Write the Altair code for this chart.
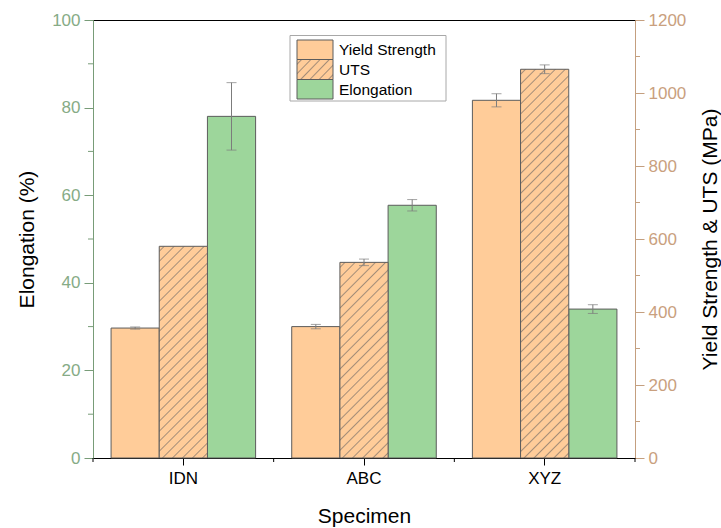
import math
import altair as alt
import pandas as pd

# ---------------- data ----------------
specimens = ["IDN", "ABC", "XYZ"]
series_names = ["Yield Strength", "UTS", "Elongation"]
yield_strength = [356, 360, 980]
yield_err = [3, 6, 18]
uts = [580, 536, 1065]
uts_err = [0, 9, 12]
elongation = [78.0, 57.7, 34.0]
elongation_err = [7.7, 1.3, 1.0]
left_ticks = [0, 20, 40, 60, 80, 100]
left_minor = [10, 30, 50, 70, 90]
right_ticks = [0, 200, 400, 600, 800, 1000, 1200]
right_minor = [100, 300, 500, 700, 900, 1100]

# ---------------- style ----------------
PW, PH = 542, 438
ORANGE = "#FFCC99"
GREEN = "#9DD69B"
EDGE = "#5c5c5c"
HATCH = "#a48d78"
ERR = "#7c7c7c"
LEFT_AX = "#789c78"
LEFT_LBL = "#86ab86"
RIGHT_AX = "#c49f7f"
RIGHT_LBL = "#c9a07e"
FONT = "Liberation Sans"
LEFT_MAX, RIGHT_MAX = 100, 1200


def hatch(w, h, spacing=10.0, bg=ORANGE, line=HATCH, width=1.0):
    n = max(1, round((w + h) / spacing))
    p = 1.0 / n
    period_perp = (w + h) / n / math.sqrt(2)
    f = min(0.45, width / period_perp)
    stops = [{"offset": 0, "color": bg}]
    for k in range(n):
        c = (k + 0.5) * p
        stops += [
            {"offset": round(c - f * p, 5), "color": bg},
            {"offset": round(c, 5), "color": line},
            {"offset": round(c + f * p, 5), "color": bg},
        ]
    stops.append({"offset": 1, "color": bg})
    d = w * w + h * h
    return {"gradient": "linear", "x1": 0, "y1": 0,
            "x2": round(w * (w + h) / d, 5), "y2": round(h * (w + h) / d, 5),
            "stops": stops}


# ---------------- frames ----------------
df_elong = pd.DataFrame({"Specimen": specimens, "Series": "Elongation",
                         "Value": elongation, "Err": elongation_err})
df_mpa = pd.DataFrame({
    "Specimen": specimens * 2,
    "Series": ["Yield Strength"] * 3 + ["UTS"] * 3,
    "Value": yield_strength + uts,
    "Err": yield_err + uts_err,
})
df_lminor = pd.DataFrame({"v": left_minor})
df_rminor = pd.DataFrame({"v": right_minor})

x_axis = alt.Axis(title="Specimen", labelAngle=0, tickSize=7, tickColor="black",
                  domainColor="black", labelColor="black", labelFontSize=17,
                  titleFontSize=21, labelPadding=5, titlePadding=19)
x_scale = alt.Scale(domain=specimens, paddingInner=0, paddingOuter=0)


def X(**kw):
    return alt.X("Specimen:N", sort=specimens, scale=x_scale, axis=x_axis, **kw)


XO = alt.XOffset("Series:N", scale=alt.Scale(domain=series_names, paddingInner=0,
                                              paddingOuter=0.375))

left_axis = alt.Axis(orient="left", title="Elongation (%)", values=left_ticks,
                     format="d", tickSize=9, domainColor=LEFT_AX, tickColor=LEFT_AX,
                     labelColor=LEFT_LBL, labelFontSize=17, titleFontSize=21,
                     titleColor="black", labelPadding=4, titlePadding=14, grid=False)
right_axis = alt.Axis(orient="right", title="Yield Strength & UTS (MPa)",
                      values=right_ticks, format="d", tickSize=9, domainColor=RIGHT_AX,
                      tickColor=RIGHT_AX, labelColor=RIGHT_LBL, labelFontSize=17,
                      titleFontSize=21, titleColor="black", titleAngle=270,
                      titleBaseline="middle", titleAlign="center",
                      titleX=75, titleY=PH / 2,
                      labelPadding=4, grid=False)
lscale = alt.Scale(domain=[0, LEFT_MAX], nice=False)
rscale = alt.Scale(domain=[0, RIGHT_MAX], nice=False)


def LY(field):
    return alt.Y(field, scale=lscale, axis=left_axis)


def RY(field):
    return alt.Y(field, scale=rscale, axis=right_axis)


# ---------------- left (elongation) ----------------
el_base = alt.Chart(df_elong).transform_calculate(
    lo="datum.Value - datum.Err", hi="datum.Value + datum.Err")
el_bars = el_base.mark_bar(fill=GREEN, stroke=EDGE, strokeWidth=1).encode(
    x=X(), xOffset=XO, y=LY("Value:Q"))
el_rule = el_base.mark_rule(color=ERR, strokeWidth=1).encode(
    x=X(), xOffset=XO, y=LY("lo:Q"), y2="hi:Q")
el_cap1 = el_base.mark_tick(color=ERR, size=10, thickness=1).encode(
    x=X(), xOffset=XO, y=LY("lo:Q"))
el_cap2 = el_base.mark_tick(color=ERR, size=10, thickness=1).encode(
    x=X(), xOffset=XO, y=LY("hi:Q"))
el_minor = alt.Chart(df_lminor).mark_rule(color=LEFT_AX).encode(
    x=alt.value(-5), x2=alt.value(0), y=LY("v:Q"))
left = alt.layer(el_bars, el_rule, el_cap1, el_cap2, el_minor)

# ---------------- right (MPa) ----------------
m_base = alt.Chart(df_mpa).transform_calculate(
    lo="datum.Value - datum.Err", hi="datum.Value + datum.Err")
ys_bars = m_base.transform_filter(alt.datum.Series == "Yield Strength").mark_bar(
    fill=ORANGE, stroke=EDGE, strokeWidth=1).encode(x=X(), xOffset=XO, y=RY("Value:Q"))
bar_w = PW / len(specimens) * 0.8 / 3
uts_layers = []
for sp, val in zip(specimens, uts):
    h = val / RIGHT_MAX * PH
    uts_layers.append(
        m_base.transform_filter(
            (alt.datum.Series == "UTS") & (alt.datum.Specimen == sp)
        ).mark_bar(fill=hatch(bar_w, h), stroke=EDGE, strokeWidth=1).encode(
            x=X(), xOffset=XO, y=RY("Value:Q")))
err_base = m_base.transform_filter(alt.datum.Err > 0)
m_rule = err_base.mark_rule(color=ERR, strokeWidth=1).encode(
    x=X(), xOffset=XO, y=RY("lo:Q"), y2="hi:Q")
m_cap1 = err_base.mark_tick(color=ERR, size=10, thickness=1).encode(
    x=X(), xOffset=XO, y=RY("lo:Q"))
m_cap2 = err_base.mark_tick(color=ERR, size=10, thickness=1).encode(
    x=X(), xOffset=XO, y=RY("hi:Q"))
r_minor = alt.Chart(df_rminor).mark_rule(color=RIGHT_AX).encode(
    x=alt.value(PW), x2=alt.value(PW + 5), y=RY("v:Q"))
right = alt.layer(ys_bars, *uts_layers, m_rule, m_cap1, m_cap2, r_minor)

# ---------------- x minor ticks ----------------
df_sp = pd.DataFrame({"Specimen": specimens})
xm1 = alt.Chart(df_sp).mark_rule(color="black").encode(
    x=X(bandPosition=0), y=alt.value(PH), y2=alt.value(PH + 4))
xm2 = alt.Chart(df_sp.tail(1)).mark_rule(color="black").encode(
    x=X(bandPosition=1), y=alt.value(PH), y2=alt.value(PH + 4))

# ---------------- legend ----------------
LX0, LX1, LX2 = 204, 240, 246
rows = [(20, 39.5), (39.5, 59.5), (59.5, 79)]
fills = [ORANGE, hatch(LX1 - LX0, 19.5), GREEN]
legend_layers = [
    alt.Chart(pd.DataFrame({"name": [series_names[0]]})).mark_rect(
        fill="white", stroke="#a8a8a8", strokeWidth=1).encode(
        x=alt.value(197), x2=alt.value(353), y=alt.value(15.5), y2=alt.value(81))
]
for name, (t, b), fl in zip(series_names, rows, fills):
    d = pd.DataFrame({"name": [name]})
    legend_layers.append(alt.Chart(d).mark_rect(fill=fl, stroke=EDGE, strokeWidth=1).encode(
        x=alt.value(LX0), x2=alt.value(LX1), y=alt.value(t), y2=alt.value(b)))
    legend_layers.append(alt.Chart(d).mark_text(
        align="left", baseline="middle", font=FONT, fontSize=15.5, color="black").encode(
        x=alt.value(LX2), y=alt.value((t + b) / 2 + 0.5), text="name:N"))

chart = alt.layer(left, right, xm1, xm2, *legend_layers).resolve_scale(
    y="independent"
).properties(
    width=PW, height=PH,
    autosize=alt.AutoSizeParams(type="none"),
    padding={"left": 93, "top": 20, "right": 86, "bottom": 70},
    background="white",
).configure_view(stroke="black", strokeWidth=1).configure_axis(
    labelFont=FONT, titleFont=FONT, titleFontWeight="normal"
)

chart.save("out.html", embed_options={"renderer": "svg", "actions": False})
